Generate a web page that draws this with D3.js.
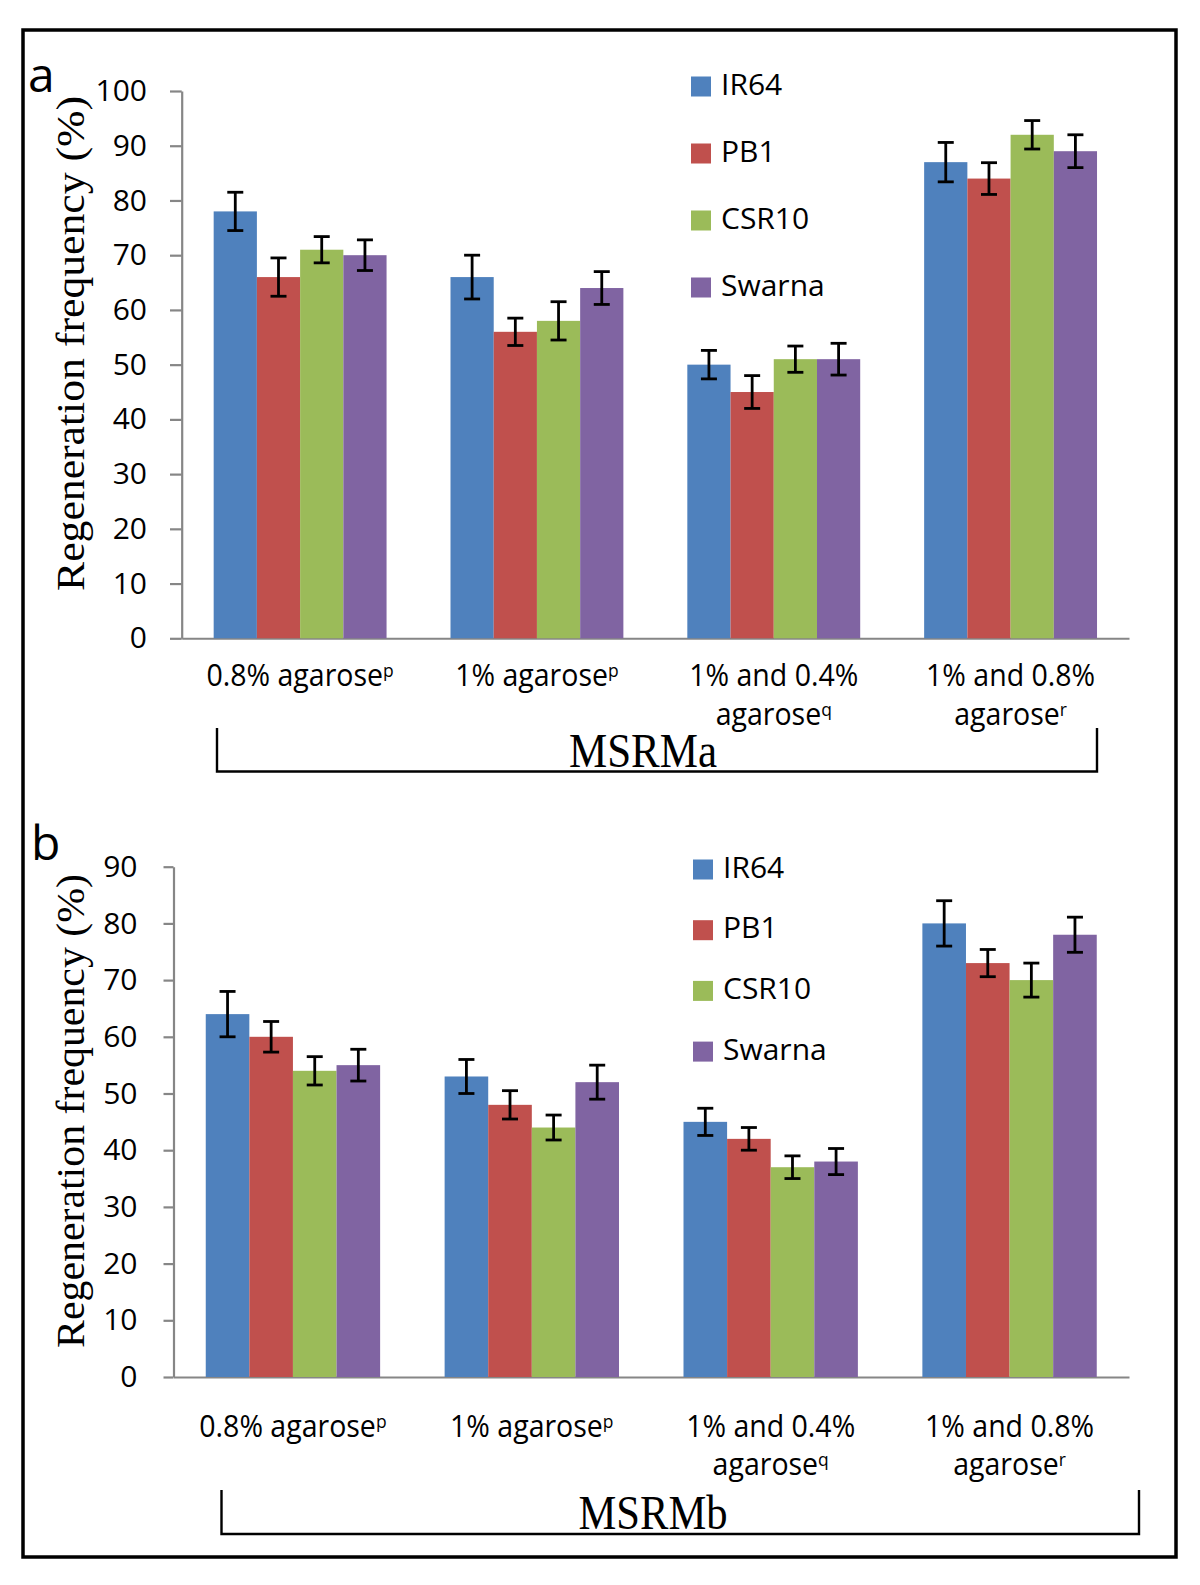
<!DOCTYPE html>
<html><head><meta charset="utf-8">
<script src="https://cdn.jsdelivr.net/npm/d3@7"></script>
<style>body{margin:0;background:#fff} svg{display:block}</style>
</head><body>
<svg id="chart" width="1200" height="1585"></svg>
<script>
// ---------- data ----------
const categories = ["0.8% agarose^p", "1% agarose^p", "1% and 0.4% agarose^q", "1% and 0.8% agarose^r"];
const labelLines = [["0.8% agarose"], ["1% agarose"], ["1% and 0.4%", "agarose"], ["1% and 0.8%", "agarose"]];
const labelSup = ["p", "p", "q", "r"];
const series = ["IR64", "PB1", "CSR10", "Swarna"];
const seriesColors = ["#4F81BD", "#C0504D", "#9BBB59", "#8064A2"];

const yTicksA = [0, 10, 20, 30, 40, 50, 60, 70, 80, 90, 100];
const yTicksB = [0, 10, 20, 30, 40, 50, 60, 70, 80, 90];

// MSRMa (panel a)
const msrmaIR64   = [78, 66, 50, 87];
const msrmaPB1    = [66, 56, 45, 84];
const msrmaCSR10  = [71, 58, 51, 92];
const msrmaSwarna = [70, 64, 51, 89];
const msrmaErrIR64   = [3.5, 4.0, 2.6, 3.6];
const msrmaErrPB1    = [3.5, 2.5, 3.0, 2.9];
const msrmaErrCSR10  = [2.4, 3.5, 2.4, 2.6];
const msrmaErrSwarna = [2.8, 3.0, 2.9, 3.0];

// MSRMb (panel b)
const msrmbIR64   = [64, 53, 45, 80];
const msrmbPB1    = [60, 48, 42, 73];
const msrmbCSR10  = [54, 44, 37, 70];
const msrmbSwarna = [55, 52, 38, 78];
const msrmbErrIR64   = [4.0, 3.0, 2.4, 4.0];
const msrmbErrPB1    = [2.7, 2.5, 2.0, 2.4];
const msrmbErrCSR10  = [2.5, 2.2, 2.0, 3.0];
const msrmbErrSwarna = [2.8, 3.0, 2.3, 3.1];

const panelALetter = "a", panelBLetter = "b";
const yTitle = "Regeneration frequency (%)";
const groupA = "MSRMa", groupB = "MSRMb";

// ---------- drawing ----------
const svg = d3.select("#chart");
svg.append("rect").attr("width", 1200).attr("height", 1585).attr("fill", "#fff");
svg.append("rect").attr("x", 23).attr("y", 30).attr("width", 1153).attr("height", 1527)
  .attr("fill", "none").attr("stroke", "#000").attr("stroke-width", 3.5);

const SANS = "'Open Sans', 'DejaVu Sans', sans-serif";
const SERIF = "'Liberation Serif', 'DejaVu Serif', serif";

function drawPanel(cfg) {
  const g = svg.append("g");
  const y = d3.scaleLinear().domain([0, cfg.yMax]).range([cfg.bottom, cfg.top]);
  const x0 = d3.scaleBand().domain(categories).range([cfg.left, cfg.right])
    .paddingInner(0.27).paddingOuter(0.135);
  const x1 = d3.scaleBand().domain(series).range([0, x0.bandwidth()]);

  // y axis
  const yAxis = d3.axisLeft(y).tickValues(cfg.ticks).tickSizeInner(cfg.tickLen).tickSizeOuter(0)
    .tickPadding(cfg.tickPad);
  const ya = g.append("g").attr("transform", `translate(${cfg.left},0)`).call(yAxis);
  ya.select(".domain").attr("stroke", "#868686").attr("stroke-width", 2.2);
  ya.selectAll(".tick line").attr("stroke", "#868686").attr("stroke-width", 2.2);
  ya.selectAll(".tick text").attr("font-family", SANS).attr("font-size", 30).attr("fill", "#000");

  // x axis baseline
  const xa = g.append("g").attr("transform", `translate(0,${cfg.bottom})`)
    .call(d3.axisBottom(x0).tickSize(0).tickFormat(""));
  xa.select(".domain").attr("stroke", "#868686").attr("stroke-width", 2);

  // bars
  const groups = g.append("g").selectAll("g").data(categories).join("g")
    .attr("transform", d => `translate(${x0(d)},0)`);
  groups.each(function(cat, ci) {
    const gg = d3.select(this);
    series.forEach((s, si) => {
      const v = cfg.values[si][ci];
      gg.append("rect").attr("x", x1(s)).attr("y", y(v))
        .attr("width", x1.bandwidth()).attr("height", y(0) - y(v))
        .attr("fill", seriesColors[si]);
    });
    series.forEach((s, si) => {
      const v = cfg.values[si][ci], e = cfg.errors[si][ci];
      const cx = x1(s) + x1.bandwidth() / 2;
      const eg = gg.append("g").attr("stroke", "#000").attr("stroke-width", 2.8);
      eg.append("line").attr("x1", cx).attr("x2", cx).attr("y1", y(v + e)).attr("y2", y(v - e));
      eg.append("line").attr("x1", cx - 8).attr("x2", cx + 8).attr("y1", y(v + e)).attr("y2", y(v + e));
      eg.append("line").attr("x1", cx - 8).attr("x2", cx + 8).attr("y1", y(v - e)).attr("y2", y(v - e));
    });
  });

  // category labels (one text element per category, lines as tspans)
  categories.forEach((cat, ci) => {
    const cx = x0(cat) + x0.bandwidth() / 2;
    const lines = labelLines[ci];
    const t = g.append("text")
      .attr("transform", `translate(${cx},${cfg.labelY}) scale(0.92,1)`)
      .attr("text-anchor", "middle")
      .attr("font-family", SANS).attr("font-size", 31).attr("fill", "#000");
    lines.forEach((ln, li) => {
      t.append("tspan").attr("x", 0).attr("y", 11 + li * cfg.labelGap).text(ln);
      if (li === lines.length - 1) {
        t.append("tspan").text(labelSup[ci]).attr("font-size", 19).attr("dy", -9);
      }
    });
  });

  // legend
  series.forEach((s, si) => {
    const cy = cfg.legendY + si * cfg.legendGap;
    g.append("rect").attr("x", cfg.legendX).attr("y", cy - 10).attr("width", 20).attr("height", 20)
      .attr("fill", seriesColors[si]);
    g.append("text").attr("x", cfg.legendX + 30).attr("y", cy).attr("dominant-baseline", "middle")
      .attr("font-family", SANS).attr("font-size", 30).attr("fill", "#000").text(s);
  });

  // y title
  g.append("text").attr("transform", `translate(${cfg.titleX},${cfg.titleY}) rotate(-90)`)
    .attr("text-anchor", "middle").attr("font-family", SERIF).attr("font-size", 40)
    .attr("textLength", cfg.titleLen).attr("lengthAdjust", "spacingAndGlyphs")
    .attr("fill", "#000").text(yTitle);

  // panel letter
  g.append("text").attr("x", cfg.letterX).attr("y", cfg.letterY)
    .attr("font-family", SANS).attr("font-size", 48).attr("fill", "#000").text(cfg.letter);

  // bracket + group name
  const b = cfg.bracket;
  g.append("path").attr("d", `M${b.l},${b.t}V${b.b}H${b.r}V${b.t}`)
    .attr("fill", "none").attr("stroke", "#000").attr("stroke-width", 2.4);
  g.append("text").attr("x", cfg.groupX).attr("y", cfg.groupY)
    .attr("text-anchor", "middle").attr("dominant-baseline", "central")
    .attr("font-family", SERIF).attr("font-size", 49)
    .attr("textLength", cfg.groupLen).attr("lengthAdjust", "spacingAndGlyphs")
    .attr("fill", "#000").text(cfg.group);
}

drawPanel({
  yMax: 100, ticks: yTicksA, left: 181.7, right: 1129, top: 91, bottom: 638.3,
  tickLen: 11.7, tickPad: 23,
  values: [msrmaIR64, msrmaPB1, msrmaCSR10, msrmaSwarna],
  errors: [msrmaErrIR64, msrmaErrPB1, msrmaErrCSR10, msrmaErrSwarna],
  labelY: 675, labelGap: 39,
  legendX: 691, legendY: 86.5, legendGap: 67,
  titleX: 84, titleY: 343.5, titleLen: 495,
  letter: panelALetter, letterX: 28, letterY: 92,
  bracket: { l: 217, r: 1097, t: 728, b: 771.5 },
  group: groupA, groupX: 643, groupY: 750, groupLen: 148
});

drawPanel({
  yMax: 90, ticks: yTicksB, left: 173.5, right: 1129, top: 866.7, bottom: 1377,
  tickLen: 10, tickPad: 26,
  values: [msrmbIR64, msrmbPB1, msrmbCSR10, msrmbSwarna],
  errors: [msrmbErrIR64, msrmbErrPB1, msrmbErrCSR10, msrmbErrSwarna],
  labelY: 1425.5, labelGap: 39,
  legendX: 693, legendY: 869.5, legendGap: 60.7,
  titleX: 84, titleY: 1111, titleLen: 474,
  letter: panelBLetter, letterX: 31, letterY: 860,
  bracket: { l: 221.5, r: 1139, t: 1490, b: 1534 },
  group: groupB, groupX: 653, groupY: 1512, groupLen: 149
});
</script>
</body></html>
